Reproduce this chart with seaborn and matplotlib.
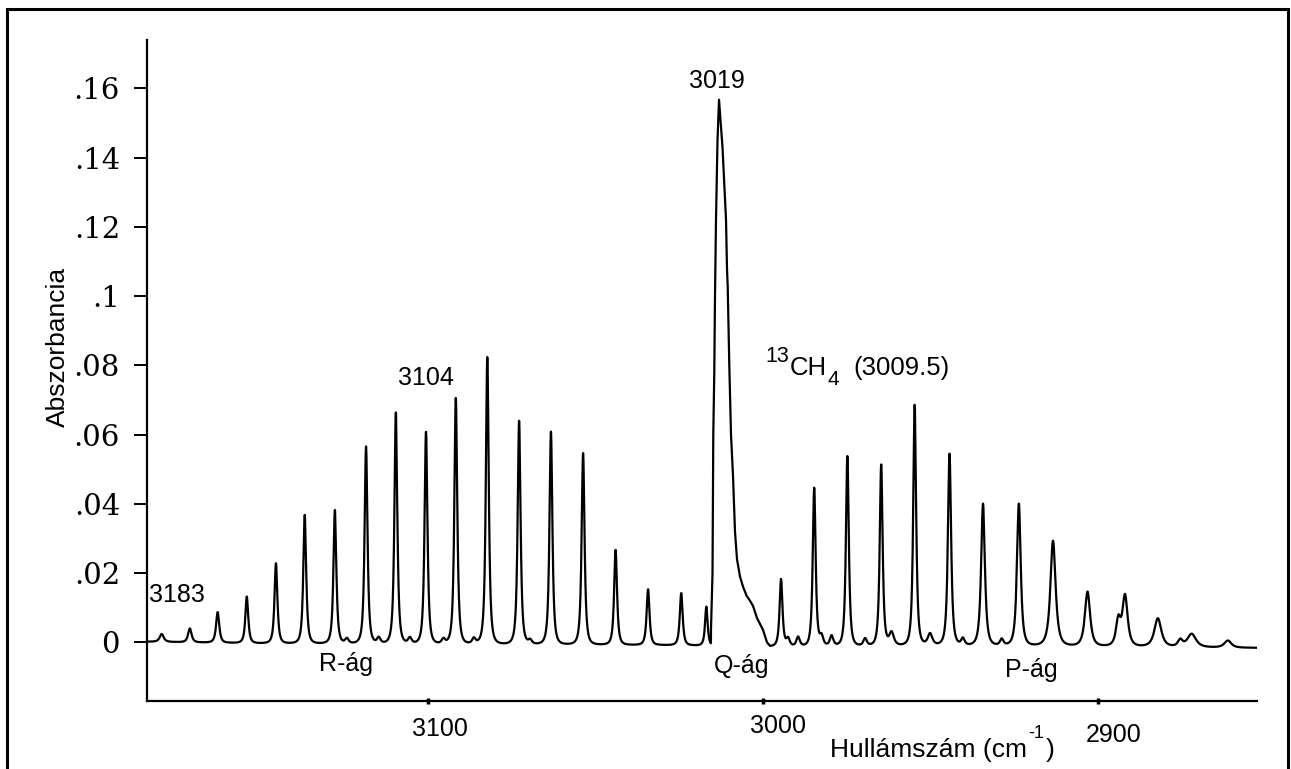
import numpy as np
import pandas as pd
import matplotlib
matplotlib.use("Agg")
import matplotlib.pyplot as plt
import matplotlib.transforms as mtransforms
from matplotlib.patches import Rectangle
import seaborn as sns

# ---------------- data ----------------
# R-branch lines: wavenumber (cm-1), apex absorbance, half width (cm-1)
r_wn = [3179.6, 3171.2, 3162.9, 3154.2, 3145.5, 3136.9, 3127.9, 3118.6, 3109.7, 3100.7,
        3091.8, 3082.4, 3072.9, 3063.4, 3053.8, 3044.1, 3034.4, 3024.5, 3017.0]
r_abs = [0.0024, 0.0040, 0.0087, 0.0132, 0.0228, 0.0368, 0.0382, 0.0565, 0.0664, 0.0608,
         0.0705, 0.0823, 0.0640, 0.0608, 0.0546, 0.0267, 0.0153, 0.0142, 0.0103]
r_hw = [0.7, 0.6, 0.55, 0.5, 0.5, 0.5, 0.5, 0.5, 0.5, 0.5,
        0.5, 0.5, 0.5, 0.5, 0.5, 0.5, 0.5, 0.5, 0.45]

# P-branch lines
p_wn = [2994.7, 2984.8, 2974.9, 2964.8, 2954.8, 2944.4, 2934.4, 2923.7, 2913.5, 2903.2,
        2892.0, 2882.2, 2872.1, 2861.3]
p_abs = [0.0182, 0.0445, 0.0538, 0.0512, 0.0685, 0.0544, 0.0400, 0.0400, 0.0293, 0.0146,
         0.0132, 0.0069, 0.0024, 0.0005]
p_hw = [0.5, 0.5, 0.5, 0.5, 0.5, 0.55, 0.65, 0.65, 0.9, 0.9,
        0.9, 1.2, 1.5, 1.2]

# small side bumps of the trace
s_wn = [3124.3, 3114.8, 3105.5, 3095.5, 3086.4, 3069.6, 2992.6, 2989.6, 2982.6, 2979.6,
        2969.6, 2961.7, 2950.2, 2940.4, 2928.8, 2894.0, 2875.5]
s_abs = [0.0010, 0.0012, 0.0012, 0.0008, 0.0010, 0.0005, 0.0010, 0.0015, 0.0015, 0.0018,
         0.0010, 0.0027, 0.0024, 0.0010, 0.0008, 0.0060, 0.0005]
s_hw = [0.6, 0.6, 0.6, 0.6, 0.6, 0.6, 0.6, 0.6, 0.6, 0.6,
        0.6, 0.8, 0.8, 0.6, 0.6, 0.8, 0.8]

# Q-branch profile (traced points)
q_wn = [3015.61, 3015.16, 3014.93, 3014.63, 3014.42, 3014.12, 3013.67, 3013.22, 3012.78,
        3012.18, 3011.94, 3011.13, 3010.84, 3010.63, 3010.15, 3009.64, 3009.04, 3008.45,
        3007.85, 3006.96, 3006.03, 3004.96, 3003.97, 3003.07, 3001.88, 3000.09, 2998.90,
        2998.00]
q_abs = [0.0040, 0.0200, 0.0600, 0.0780, 0.1000, 0.1220, 0.1450, 0.1567, 0.1510,
         0.1430, 0.1380, 0.1220, 0.1080, 0.1030, 0.0800, 0.0600, 0.0480, 0.0320,
         0.0240, 0.0190, 0.0160, 0.0134, 0.0120, 0.0105, 0.0070, 0.0036, 0.0000,
         -0.0010]

# baseline drift
base_wn = [2852.6, 2900.0, 2950.0, 2990.0, 3030.0, 3100.0, 3150.0, 3184.0]
base_abs = [-0.0016, -0.0012, -0.0010, -0.0013, -0.0008, -0.0006, -0.0003, 0.0002]

# axis ticks
y_ticks = [0, 0.02, 0.04, 0.06, 0.08, 0.10, 0.12, 0.14, 0.16]
y_ticklabels = ["0", ".02", ".04", ".06", ".08", ".1", ".12", ".14", ".16"]
x_ticks = [3100, 3000, 2900]
x_ticklabels = ["3100", "3000", "2900"]

# annotations: text, wavenumber, absorbance
ann_text = ["3183", "3104", "3019", "R-ág", "Q-ág", "P-ág"]
ann_wn = [3175.2, 3100.7, 3013.8, 3124.7, 3006.4, 2919.9]
ann_abs = [0.0116, 0.0743, 0.1601, -0.0083, -0.0089, -0.0099]

# 13CH4 label pieces: text, wavenumber (left edge), absorbance (baseline), size
iso_text = ["13", "CH", "4", "(3009.5)"]
iso_wn = [2999.49, 2992.03, 2980.7, 2973.2]
iso_abs = [0.0810, 0.0772, 0.0743, 0.0772]
iso_size = [15.5, 18.5, 15, 18.5]

# ---------------- build the trace ----------------
line_wn = np.array(r_wn + p_wn + s_wn)
line_apex = np.array(r_abs + p_abs + s_abs)
line_hw = np.array(r_hw + p_hw + s_hw)
line_h = line_apex - np.interp(line_wn, base_wn, base_abs)


def lines_sum(w):
    out = np.interp(w, base_wn, base_abs)
    for c, a, hw in zip(line_wn, line_h, line_hw):
        g = hw / 0.7664
        out = out + a * (1.0 + ((w - c) / g) ** 2) ** -1.5
    return out


grid = np.arange(2852.6, 3184.0, 0.04)
keep = (grid < min(q_wn)) | (grid > max(q_wn))
wn_all = np.concatenate([grid[keep], np.array(q_wn)])
ab_all = np.concatenate([lines_sum(grid[keep]), np.array(q_abs)])
df = pd.DataFrame({"wn": wn_all, "abs": ab_all}).sort_values("wn")

# ---------------- figure ----------------
sns.set_style("ticks")
plt.rcParams["font.family"] = ["Liberation Sans", "DejaVu Sans"]
plt.rcParams["text.color"] = "black"
plt.rcParams["axes.labelcolor"] = "black"
plt.rcParams["xtick.color"] = "black"
plt.rcParams["ytick.color"] = "black"

W, H = 1291, 769
fig = plt.figure(figsize=(W / 100, H / 100), dpi=100)
ax = fig.add_axes([147 / W, 68 / H, 1110 / W, 661 / H])

sns.lineplot(data=df, x="wn", y="abs", sort=True, estimator=None,
             color="black", linewidth=1.6, ax=ax)

ax.set_xlim(3184.0, 2852.6)
ax.set_ylim(-0.01695, 0.17395)

for s in ["top", "right"]:
    ax.spines[s].set_visible(False)
for s in ["left", "bottom"]:
    ax.spines[s].set_color("black")
    ax.spines[s].set_linewidth(1.6)

ax.set_yticks(y_ticks)
ax.set_yticklabels(y_ticklabels, fontfamily="DejaVu Serif", fontsize=21, color="black")
ax.tick_params(axis="y", direction="out", length=9.4, width=1.4, pad=10, colors="black")

ax.set_xticks(x_ticks)
ax.set_xticklabels(x_ticklabels, fontsize=18, color="black")
ax.tick_params(axis="x", direction="inout", length=4, width=2.5, pad=10.2, colors="black")
x_offsets = [(12, 1), (15, 4), (15, -5)]
for lbl, (dx, dy) in zip(ax.get_xticklabels(), x_offsets):
    lbl.set_transform(lbl.get_transform() +
                      mtransforms.ScaledTranslation(dx / 100, dy / 100, fig.dpi_scale_trans))

ax.set_ylabel("Abszorbancia", fontsize=19, color="black")
ax.yaxis.set_label_coords(-0.0694, 0.5356)
ax.set_xlabel("Hullámszám (cm", fontsize=19, ha="left", va="baseline", color="black")
ax.xaxis.set_label_coords(0.6153, -0.0847)
ax.text(0.7937, -0.0560, "-1", fontsize=13, ha="left", va="baseline",
        transform=ax.transAxes, color="black")
ax.text(0.8099, -0.0847, ")", fontsize=19, ha="left", va="baseline",
        transform=ax.transAxes, color="black")

for t, x, y in zip(ann_text, ann_wn, ann_abs):
    ax.text(x, y, t, fontsize=18, ha="center", va="baseline", color="black")
for t, x, y, s in zip(iso_text, iso_wn, iso_abs, iso_size):
    ax.text(x, y, t, fontsize=s, ha="left", va="baseline", color="black")

fig.add_artist(Rectangle((7 / W, -0.02), (1287.5 - 7) / W, (H - 9) / H + 0.02,
                         transform=fig.transFigure, fill=False, lw=2.2, ec="black"))

fig.savefig("out.png", dpi=100)
